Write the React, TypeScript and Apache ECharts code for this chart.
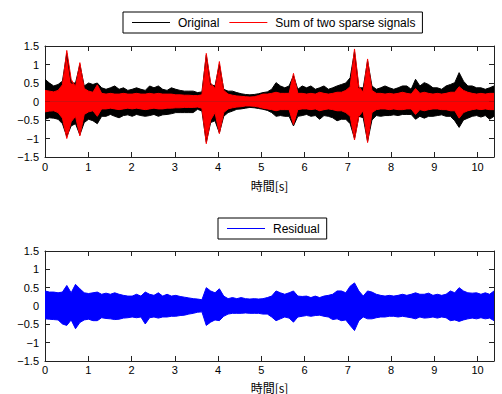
import React, { useEffect, useRef } from "react";
import * as echarts from "echarts";

const X_MAX = 10.38;
const Y_TICKS = [-1.5, -1, -0.5, 0, 0.5, 1, 1.5];

// Envelopes (upper / lower extreme of the waveform) read per 0.1 s bin, 0 s .. 10.38 s
const origMax = [
  0.6, 0.5, 0.42, 0.46, 0.55, 1.3, 0.5, 0.5, 1.0, 0.42,
  0.5, 0.46, 0.5, 0.37, 0.33, 0.37, 0.42, 0.33, 0.37, 0.3,
  0.33, 0.37, 0.33, 0.3, 0.42, 0.37, 0.42, 0.33, 0.3, 0.37,
  0.33, 0.3, 0.28, 0.28, 0.28, 0.24, 0.26, 1.25, 0.46, 0.42,
  1.0, 0.33, 0.28, 0.28, 0.24, 0.21, 0.19, 0.18, 0.19, 0.21,
  0.24, 0.26, 0.33, 0.51, 0.42, 0.37, 0.42, 0.7, 0.33, 0.42,
  0.37, 0.42, 0.33, 0.37, 0.42, 0.33, 0.37, 0.42, 0.46, 0.5,
  0.64, 1.35, 0.37, 0.37, 1.1, 0.42, 0.33, 0.37, 0.42, 0.37,
  0.33, 0.37, 0.42, 0.42, 0.33, 0.6, 0.42, 0.51, 0.46, 0.37,
  0.37, 0.33, 0.42, 0.46, 0.51, 0.78, 0.55, 0.42, 0.42, 0.37,
  0.37, 0.33, 0.37, 0.42,
];
const origMin = [
  -0.48, -0.44, -0.45, -0.48, -0.6, -0.95, -0.66, -0.6, -0.9, -0.57,
  -0.48, -0.52, -0.6, -0.4, -0.4, -0.35, -0.4, -0.44, -0.38, -0.36,
  -0.4, -0.35, -0.38, -0.4, -0.38, -0.35, -0.4, -0.36, -0.35, -0.33,
  -0.3, -0.3, -0.3, -0.3, -0.3, -0.21, -0.26, -1.1, -0.57, -0.52,
  -0.85, -0.4, -0.3, -0.26, -0.21, -0.2, -0.18, -0.16, -0.17, -0.19,
  -0.21, -0.24, -0.3, -0.4, -0.38, -0.4, -0.4, -0.66, -0.4, -0.38,
  -0.35, -0.4, -0.38, -0.48, -0.38, -0.4, -0.44, -0.52, -0.48, -0.48,
  -0.6, -1.0, -0.4, -0.44, -1.08, -0.5, -0.38, -0.4, -0.38, -0.38,
  -0.36, -0.38, -0.35, -0.35, -0.35, -0.48, -0.4, -0.45, -0.4, -0.4,
  -0.38, -0.36, -0.4, -0.4, -0.52, -0.7, -0.5, -0.45, -0.4, -0.38,
  -0.42, -0.38, -0.48, -0.4,
];
const sparseMax = [
  0.3, 0.28, 0.26, 0.3, 0.45, 1.38, 0.6, 0.4, 1.05, 0.35,
  0.28, 0.25, 0.45, 0.22, 0.2, 0.22, 0.2, 0.2, 0.22, 0.2,
  0.2, 0.22, 0.2, 0.2, 0.22, 0.2, 0.22, 0.2, 0.2, 0.2,
  0.18, 0.18, 0.17, 0.17, 0.16, 0.16, 0.18, 1.3, 0.5, 0.35,
  1.08, 0.3, 0.2, 0.17, 0.15, 0.14, 0.13, 0.12, 0.13, 0.16,
  0.2, 0.2, 0.22, 0.25, 0.22, 0.22, 0.22, 0.76, 0.22, 0.22,
  0.2, 0.22, 0.2, 0.25, 0.22, 0.2, 0.22, 0.25, 0.25, 0.3,
  0.4, 1.42, 0.4, 0.25, 1.15, 0.3, 0.22, 0.22, 0.2, 0.22,
  0.2, 0.22, 0.25, 0.22, 0.2, 0.35, 0.22, 0.25, 0.22, 0.2,
  0.22, 0.2, 0.22, 0.25, 0.25, 0.4, 0.3, 0.25, 0.22, 0.2,
  0.22, 0.2, 0.22, 0.22,
];
const sparseMin = [
  -0.28, -0.26, -0.25, -0.3, -0.45, -1.0, -0.55, -0.4, -0.93, -0.35,
  -0.28, -0.25, -0.4, -0.2, -0.2, -0.18, -0.2, -0.22, -0.2, -0.18,
  -0.2, -0.18, -0.2, -0.22, -0.2, -0.18, -0.2, -0.2, -0.18, -0.18,
  -0.17, -0.17, -0.16, -0.16, -0.16, -0.15, -0.18, -1.14, -0.5, -0.3,
  -0.87, -0.3, -0.2, -0.17, -0.15, -0.14, -0.12, -0.12, -0.13, -0.15,
  -0.18, -0.2, -0.22, -0.25, -0.22, -0.22, -0.22, -0.62, -0.22, -0.2,
  -0.2, -0.22, -0.2, -0.25, -0.22, -0.2, -0.22, -0.25, -0.25, -0.3,
  -0.4, -1.04, -0.4, -0.25, -1.11, -0.3, -0.22, -0.2, -0.2, -0.22,
  -0.2, -0.22, -0.22, -0.2, -0.2, -0.35, -0.22, -0.25, -0.22, -0.2,
  -0.2, -0.22, -0.22, -0.25, -0.25, -0.45, -0.3, -0.25, -0.22, -0.2,
  -0.22, -0.2, -0.22, -0.22,
];
const residMax = [
  0.41, 0.38, 0.38, 0.36, 0.38, 0.56, 0.36, 0.59, 0.47, 0.36,
  0.34, 0.36, 0.38, 0.32, 0.35, 0.32, 0.36, 0.32, 0.29, 0.27,
  0.27, 0.32, 0.27, 0.38, 0.32, 0.29, 0.36, 0.27, 0.32, 0.27,
  0.29, 0.26, 0.24, 0.22, 0.2, 0.19, 0.17, 0.5, 0.41, 0.36,
  0.47, 0.27, 0.2, 0.23, 0.2, 0.23, 0.2, 0.19, 0.2, 0.19,
  0.2, 0.23, 0.27, 0.41, 0.36, 0.32, 0.36, 0.41, 0.27, 0.26,
  0.27, 0.23, 0.27, 0.23, 0.27, 0.29, 0.32, 0.41, 0.41, 0.36,
  0.54, 0.63, 0.41, 0.27, 0.41, 0.38, 0.32, 0.29, 0.27, 0.29,
  0.27, 0.29, 0.32, 0.29, 0.32, 0.36, 0.32, 0.32, 0.35, 0.29,
  0.32, 0.29, 0.32, 0.41, 0.36, 0.5, 0.41, 0.36, 0.35, 0.36,
  0.32, 0.36, 0.32, 0.41,
];
const residMin = [
  -0.35, -0.36, -0.37, -0.38, -0.49, -0.53, -0.38, -0.62, -0.45, -0.38,
  -0.36, -0.4, -0.4, -0.32, -0.34, -0.35, -0.37, -0.36, -0.33, -0.32,
  -0.3, -0.32, -0.3, -0.49, -0.32, -0.3, -0.33, -0.3, -0.3, -0.28,
  -0.28, -0.26, -0.25, -0.22, -0.2, -0.17, -0.16, -0.53, -0.44, -0.38,
  -0.4, -0.28, -0.22, -0.2, -0.2, -0.2, -0.19, -0.2, -0.2, -0.2,
  -0.22, -0.22, -0.3, -0.4, -0.35, -0.3, -0.33, -0.44, -0.3, -0.28,
  -0.26, -0.28, -0.26, -0.25, -0.28, -0.3, -0.37, -0.35, -0.4, -0.38,
  -0.53, -0.67, -0.4, -0.3, -0.35, -0.35, -0.32, -0.3, -0.3, -0.28,
  -0.28, -0.3, -0.28, -0.3, -0.32, -0.35, -0.3, -0.33, -0.32, -0.3,
  -0.33, -0.3, -0.32, -0.4, -0.38, -0.42, -0.38, -0.35, -0.33, -0.35,
  -0.32, -0.35, -0.33, -0.4,
];

function pts(vals: number[]): number[][] {
  const n = vals.length;
  return vals.map((v, i) => [+((i * X_MAX) / (n - 1)).toFixed(4), v]);
}

const FONT = "'Liberation Sans Narrow', 'Liberation Sans', Arial, sans-serif";
const LFONT = "'Liberation Sans', Arial, sans-serif";
const CJK = "'Noto Sans CJK JP', sans-serif";

function fmtY(v: number) {
  if (!Y_TICKS.includes(v)) return "";
  return v < 0 ? "\u2212" + Math.abs(v) : String(v);
}
function fmtX(v: number) {
  return Math.abs(v - Math.round(v)) < 1e-6 ? String(Math.round(v)) : "";
}

function xAxisDef(gridIndex: number, position: "top" | "bottom", labels: boolean) {
  return {
    type: "value",
    gridIndex,
    position,
    min: 0,
    max: X_MAX,
    interval: 1,
    name: labels ? "時間[s]" : "",
    nameLocation: "middle",
    nameGap: gridIndex === 0 ? 22 : 20,
    nameTextStyle: { fontFamily: CJK, fontSize: 12, color: "#000" },
    axisLine: { show: true, onZero: false, lineStyle: { color: "#222", width: 1 } },
    axisTick: { show: true, inside: true, length: 5, lineStyle: { color: "#222" } },
    axisLabel: {
      show: labels,
      margin: 4,
      fontSize: 11,
      fontFamily: FONT,
      color: "#000",
      showMaxLabel: false,
      formatter: fmtX,
    },
    splitLine: { show: false },
  };
}

function yAxisDef(gridIndex: number, position: "left" | "right", labels: boolean) {
  return {
    type: "value",
    gridIndex,
    position,
    min: -1.5,
    max: 1.5,
    interval: 0.5,
    axisLine: { show: true, onZero: false, lineStyle: { color: "#222", width: 1 } },
    axisTick: { show: true, inside: true, length: 5, lineStyle: { color: "#222" } },
    axisLabel: {
      show: labels,
      margin: 6,
      fontSize: 11,
      fontFamily: FONT,
      color: "#000",
      formatter: fmtY,
    },
    splitLine: { show: false },
  };
}

function band(name: string, maxs: number[], mins: number[], color: string, xi: number) {
  const common = {
    type: "line",
    xAxisIndex: xi,
    yAxisIndex: xi,
    symbol: "none",
    lineStyle: { color, width: 1 },
    itemStyle: { color },
    areaStyle: { color, opacity: 1, origin: 0 },
  };
  return [
    { ...common, name, data: pts(maxs) },
    { ...common, name, data: pts(mins) },
  ];
}

export default function App() {
  const ref = useRef<HTMLDivElement>(null);
  useEffect(() => {
    if (!ref.current) return;
    const chart = echarts.init(ref.current, undefined, { renderer: "svg" });
    const legendBase = {
      orient: "horizontal",
      backgroundColor: "#fff",
      borderColor: "#000",
      borderWidth: 1,
      borderRadius: 0,
      padding: [3, 7, 3, 9],
      icon: "rect",
      itemWidth: 38,
      itemHeight: 1,
      itemGap: 10,
      textStyle: { fontSize: 12, fontFamily: LFONT, color: "#000", padding: [0, 0, 0, 3], lineHeight: 15 },
    };
    chart.setOption({
      animation: false,
      backgroundColor: "#fff",
      grid: [
        { left: 45, right: 8, top: 46, height: 111, containLabel: false },
        { left: 45, right: 8, top: 251, height: 112, containLabel: false },
      ],
      legend: [
        { ...legendBase, left: 123, top: 12, data: ["Original", "Sum of two sparse signals"] },
        { ...legendBase, left: 218, top: 218, data: ["Residual"] },
      ],
      xAxis: [
        xAxisDef(0, "bottom", true),
        xAxisDef(0, "top", false),
        xAxisDef(1, "bottom", true),
        xAxisDef(1, "top", false),
      ],
      yAxis: [
        yAxisDef(0, "left", true),
        yAxisDef(0, "right", false),
        yAxisDef(1, "left", true),
        yAxisDef(1, "right", false),
      ],
      series: [
        ...band("Original", origMax, origMin, "#000000", 0),
        ...band("Sum of two sparse signals", sparseMax, sparseMin, "#ff0000", 0),
        ...band("Residual", residMax, residMin, "#0000ff", 2),
      ],
    });
    return () => chart.dispose();
  }, []);
  return (
    <div
      ref={ref}
      style={{ position: "absolute", left: 0, top: 0, width: 502, height: 394 }}
    />
  );
}
